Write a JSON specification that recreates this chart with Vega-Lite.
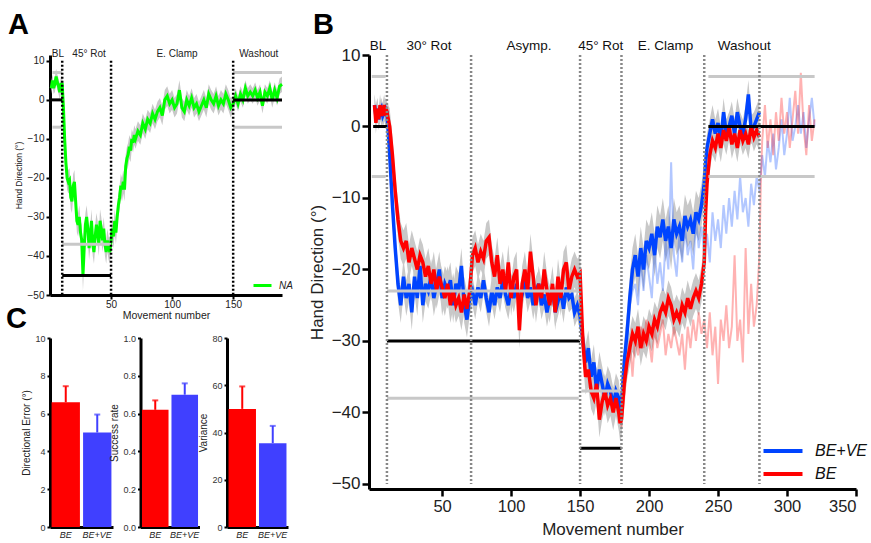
{
"$schema":"https://vega.github.io/schema/vega-lite/v6.json",
"padding":{"left":6,"top":10,"right":2,"bottom":2},
"config":{"font":"Liberation Sans","view":{"stroke":null},
"axis":{"domainColor":"#000","tickColor":"#000","labelColor":"#222","titleColor":"#222","grid":false,"titleFontWeight":"normal","labelFont":"Liberation Sans","titleFont":"Liberation Sans","labelOverlap":false},
"title":{"font":"Liberation Sans","fontWeight":"bold","anchor":"start","frame":"group","color":"#000","fontSize":29},
"legend":{"labelFont":"Liberation Sans"}},
"datasets":{
"a":[{"x":1,"y":3,"e":1.5},{"x":2,"y":5,"e":1.5},{"x":3,"y":3,"e":1.5},{"x":4,"y":4,"e":2},{"x":5,"y":6,"e":2},{"x":6,"y":4.5,"e":2},{"x":7,"y":3.5,"e":2},{"x":8,"y":2,"e":2},{"x":9,"y":4,"e":2},{"x":10,"y":4,"e":2},{"x":11,"y":-2,"e":3},{"x":12,"y":-10,"e":3},{"x":13,"y":-16,"e":3},{"x":14,"y":-20,"e":3},{"x":15,"y":-21,"e":3},{"x":16,"y":-20.5,"e":3},{"x":17,"y":-25,"e":3},{"x":18,"y":-26,"e":3},{"x":19,"y":-22,"e":3},{"x":20,"y":-21,"e":3},{"x":21,"y":-26,"e":3},{"x":22,"y":-31,"e":3},{"x":23,"y":-32,"e":3},{"x":24,"y":-30,"e":3},{"x":25,"y":-34,"e":3},{"x":26,"y":-36,"e":4},{"x":27,"y":-45,"e":4},{"x":28,"y":-38,"e":4},{"x":29,"y":-32,"e":3},{"x":30,"y":-30,"e":3},{"x":31,"y":-33,"e":3},{"x":32,"y":-38,"e":3},{"x":33,"y":-35,"e":3},{"x":34,"y":-31,"e":3},{"x":35,"y":-37,"e":3},{"x":36,"y":-39,"e":3},{"x":37,"y":-35,"e":3},{"x":38,"y":-32,"e":3},{"x":39,"y":-34,"e":3},{"x":40,"y":-37,"e":3},{"x":41,"y":-31,"e":3},{"x":42,"y":-33,"e":3},{"x":43,"y":-36,"e":3},{"x":44,"y":-33,"e":3},{"x":45,"y":-37,"e":3},{"x":46,"y":-39,"e":3},{"x":47,"y":-36,"e":3},{"x":48,"y":-38,"e":3},{"x":49,"y":-39,"e":3},{"x":50,"y":-36,"e":3},{"x":51,"y":-33,"e":3},{"x":52,"y":-35,"e":3},{"x":53,"y":-31,"e":3},{"x":54,"y":-34,"e":3},{"x":55,"y":-30,"e":3},{"x":56,"y":-27,"e":3},{"x":57,"y":-25,"e":3},{"x":58,"y":-22,"e":3},{"x":59,"y":-23,"e":3},{"x":60,"y":-21,"e":3},{"x":61,"y":-23,"e":3},{"x":62,"y":-17,"e":3},{"x":63,"y":-15,"e":3},{"x":64,"y":-14,"e":3},{"x":65,"y":-12,"e":3},{"x":66,"y":-13,"e":3},{"x":67,"y":-10,"e":2.5},{"x":68,"y":-11,"e":2.5},{"x":69,"y":-9,"e":2.5},{"x":70,"y":-10,"e":2.5},{"x":72,"y":-8,"e":2.5},{"x":74,"y":-9,"e":2.5},{"x":76,"y":-6,"e":2.5},{"x":78,"y":-7.5,"e":2.5},{"x":80,"y":-5,"e":2.5},{"x":82,"y":-6,"e":2.5},{"x":84,"y":-3.5,"e":2.5},{"x":86,"y":-5,"e":2.5},{"x":88,"y":-3,"e":2.5},{"x":90,"y":-2,"e":2.5},{"x":92,"y":-4,"e":2.5},{"x":94,"y":0,"e":2.5},{"x":96,"y":1,"e":2.5},{"x":98,"y":-1,"e":2.5},{"x":100,"y":0,"e":2.5},{"x":102,"y":-2,"e":2.5},{"x":104,"y":-1,"e":2.5},{"x":106,"y":2.5,"e":2.5},{"x":108,"y":-2,"e":2.5},{"x":110,"y":-3,"e":2.5},{"x":112,"y":0,"e":2.5},{"x":114,"y":-1.5,"e":2.5},{"x":116,"y":0.5,"e":2.5},{"x":118,"y":-2,"e":2.5},{"x":120,"y":-1,"e":2.5},{"x":122,"y":-3,"e":2.5},{"x":124,"y":-1.5,"e":2.5},{"x":126,"y":0,"e":2.5},{"x":128,"y":-2,"e":2.5},{"x":130,"y":1.5,"e":2.5},{"x":132,"y":0,"e":2.5},{"x":134,"y":-1,"e":2.5},{"x":136,"y":1,"e":2.5},{"x":138,"y":-1.5,"e":2.5},{"x":140,"y":0,"e":2.5},{"x":142,"y":-1,"e":2.5},{"x":144,"y":1.5,"e":2.5},{"x":146,"y":0,"e":2.5},{"x":148,"y":-2,"e":2.5},{"x":150,"y":-1,"e":2},{"x":152,"y":1,"e":2},{"x":154,"y":-1,"e":2},{"x":156,"y":1.5,"e":2},{"x":158,"y":0,"e":2},{"x":160,"y":3,"e":2},{"x":162,"y":1,"e":2},{"x":164,"y":2,"e":2},{"x":166,"y":1,"e":2},{"x":168,"y":2.5,"e":2},{"x":170,"y":0.5,"e":2},{"x":172,"y":2,"e":2},{"x":174,"y":-1.5,"e":2},{"x":176,"y":2,"e":2},{"x":178,"y":1,"e":2},{"x":180,"y":3,"e":2},{"x":182,"y":0,"e":2},{"x":184,"y":2.5,"e":2},{"x":186,"y":0.5,"e":2},{"x":188,"y":3.5,"e":2},{"x":190,"y":4,"e":2}],
"a_t":[{"x":0,"x2":10,"y":0},{"x":10,"x2":50,"y":-45},{"x":150,"x2":190,"y":0}],
"a_b":[{"x":2,"x2":10,"y":7},{"x":2,"x2":10,"y":-7},{"x":10,"x2":50,"y":-37},{"x":150,"x2":190,"y":7},{"x":150,"x2":190,"y":-7}],
"a_v":[{"x":10},{"x":50},{"x":150}],
"a_s":[{"x":6.5,"t":"BL"},{"x":32,"t":"45° Rot"},{"x":104,"t":"E. Clamp"},{"x":171,"t":"Washout"}],
"bv":[{"x":1,"y":3,"e":1.5},{"x":2,"y":1.5,"e":1.5},{"x":3,"y":2.5,"e":1.5},{"x":4,"y":1,"e":1.5},{"x":5,"y":2,"e":1.5},{"x":6,"y":2.5,"e":1.5},{"x":7,"y":1.5,"e":1.5},{"x":8,"y":2,"e":1.5},{"x":9,"y":2.5,"e":1.5},{"x":10,"y":2,"e":1.5},{"x":12,"y":-4,"e":2.5},{"x":14,"y":-11,"e":2.5},{"x":16,"y":-17,"e":2.5},{"x":18,"y":-22,"e":2.5},{"x":20,"y":-25,"e":2.5},{"x":22,"y":-21,"e":2.5},{"x":24,"y":-24,"e":2.5},{"x":26,"y":-22,"e":2.5},{"x":28,"y":-26,"e":2.5},{"x":30,"y":-21,"e":2.5},{"x":32,"y":-24,"e":2.5},{"x":34,"y":-19.5,"e":2.5},{"x":36,"y":-25,"e":2.5},{"x":38,"y":-22,"e":2.5},{"x":40,"y":-23,"e":2.5},{"x":42,"y":-21,"e":2.5},{"x":44,"y":-24,"e":2.5},{"x":46,"y":-22,"e":2.5},{"x":48,"y":-20,"e":2.5},{"x":50,"y":-24,"e":2.5},{"x":52,"y":-22,"e":2.5},{"x":54,"y":-23,"e":2.5},{"x":56,"y":-21.5,"e":2.5},{"x":58,"y":-25,"e":2.5},{"x":60,"y":-22,"e":2.5},{"x":62,"y":-23,"e":2.5},{"x":64,"y":-19.5,"e":2.5},{"x":66,"y":-25,"e":2.5},{"x":68,"y":-27,"e":2.5},{"x":70,"y":-24,"e":2.5},{"x":72,"y":-23,"e":2},{"x":74,"y":-25,"e":2},{"x":76,"y":-22.5,"e":2},{"x":78,"y":-24,"e":2},{"x":80,"y":-21.5,"e":2},{"x":82,"y":-24,"e":2},{"x":84,"y":-26,"e":2},{"x":86,"y":-23,"e":2},{"x":88,"y":-25,"e":2},{"x":90,"y":-22.5,"e":2},{"x":92,"y":-24,"e":2},{"x":94,"y":-21.5,"e":2},{"x":96,"y":-23.5,"e":2},{"x":98,"y":-25,"e":2},{"x":100,"y":-22.5,"e":2},{"x":102,"y":-24,"e":2},{"x":104,"y":-22,"e":2},{"x":106,"y":-25,"e":2},{"x":108,"y":-23.5,"e":2},{"x":110,"y":-21.5,"e":2},{"x":112,"y":-24,"e":2},{"x":114,"y":-22.5,"e":2},{"x":116,"y":-25,"e":2},{"x":118,"y":-23,"e":2},{"x":120,"y":-22,"e":2},{"x":122,"y":-25,"e":2},{"x":124,"y":-23.5,"e":2},{"x":126,"y":-26,"e":2},{"x":128,"y":-24,"e":2},{"x":130,"y":-22.5,"e":2},{"x":132,"y":-26,"e":2},{"x":134,"y":-24.5,"e":2},{"x":136,"y":-23,"e":2},{"x":138,"y":-25.5,"e":2},{"x":140,"y":-22.5,"e":2},{"x":142,"y":-24,"e":2},{"x":144,"y":-23.5,"e":2},{"x":146,"y":-26,"e":2},{"x":148,"y":-25,"e":2},{"x":150,"y":-26.5,"e":2},{"x":152,"y":-30,"e":2.5},{"x":154,"y":-33,"e":2.5},{"x":156,"y":-31,"e":2.5},{"x":158,"y":-35,"e":2.5},{"x":160,"y":-33,"e":2.5},{"x":162,"y":-37,"e":2.5},{"x":164,"y":-34,"e":2.5},{"x":166,"y":-36,"e":2.5},{"x":168,"y":-38,"e":2.5},{"x":170,"y":-36,"e":2.5},{"x":172,"y":-37,"e":2.5},{"x":174,"y":-39,"e":2.5},{"x":176,"y":-37,"e":2.5},{"x":178,"y":-38,"e":2.5},{"x":179,"y":-40,"e":2.5},{"x":180,"y":-39,"e":3},{"x":182,"y":-33,"e":3},{"x":184,"y":-29,"e":3},{"x":186,"y":-24,"e":3},{"x":188,"y":-20,"e":3},{"x":190,"y":-18,"e":3},{"x":192,"y":-21,"e":3},{"x":194,"y":-17,"e":3},{"x":196,"y":-20,"e":3},{"x":198,"y":-16,"e":3},{"x":200,"y":-17,"e":3},{"x":202,"y":-15,"e":3},{"x":204,"y":-18,"e":3},{"x":206,"y":-14,"e":3},{"x":208,"y":-15.5,"e":3},{"x":210,"y":-13,"e":3},{"x":212,"y":-16,"e":3},{"x":214,"y":-14,"e":3},{"x":216,"y":-17,"e":3},{"x":218,"y":-13,"e":3},{"x":220,"y":-15,"e":3},{"x":222,"y":-14,"e":3},{"x":224,"y":-16,"e":3},{"x":226,"y":-12.5,"e":3},{"x":228,"y":-14,"e":3},{"x":230,"y":-13,"e":3},{"x":232,"y":-15,"e":3},{"x":234,"y":-12,"e":3},{"x":236,"y":-13,"e":3},{"x":238,"y":-11,"e":3},{"x":240,"y":-8,"e":3},{"x":241,"y":-5,"e":2},{"x":242,"y":-3,"e":2},{"x":244,"y":-1,"e":2},{"x":246,"y":1,"e":2},{"x":248,"y":-1,"e":2},{"x":250,"y":0.5,"e":2},{"x":252,"y":-2,"e":2},{"x":254,"y":2,"e":2},{"x":256,"y":-1,"e":2},{"x":258,"y":0,"e":2},{"x":260,"y":1.5,"e":2},{"x":262,"y":-1,"e":2},{"x":264,"y":2,"e":2},{"x":266,"y":0,"e":2},{"x":268,"y":-1,"e":2},{"x":270,"y":1,"e":2},{"x":272,"y":4.5,"e":2},{"x":274,"y":-0.5,"e":2},{"x":276,"y":0,"e":2},{"x":278,"y":1,"e":2},{"x":280,"y":2,"e":2}],
"be":[{"x":1,"y":3,"e":1.5},{"x":2,"y":0.5,"e":1.5},{"x":3,"y":2.5,"e":1.5},{"x":4,"y":1,"e":1.5},{"x":5,"y":3,"e":1.5},{"x":6,"y":1.5,"e":1.5},{"x":7,"y":2,"e":1.5},{"x":8,"y":3,"e":1.5},{"x":9,"y":1.5,"e":1.5},{"x":10,"y":2,"e":1.5},{"x":12,"y":0,"e":2.5},{"x":14,"y":-4,"e":2.5},{"x":16,"y":-9,"e":2.5},{"x":18,"y":-13,"e":2.5},{"x":20,"y":-16,"e":2.5},{"x":22,"y":-17,"e":2.5},{"x":24,"y":-16,"e":2.5},{"x":26,"y":-19,"e":2.5},{"x":28,"y":-17,"e":2.5},{"x":30,"y":-18.5,"e":2.5},{"x":32,"y":-20,"e":2.5},{"x":34,"y":-18,"e":2.5},{"x":36,"y":-19,"e":2.5},{"x":38,"y":-21,"e":2.5},{"x":40,"y":-19.5,"e":2.5},{"x":42,"y":-22,"e":2.5},{"x":44,"y":-20,"e":2.5},{"x":46,"y":-23,"e":2.5},{"x":48,"y":-21,"e":2.5},{"x":50,"y":-22.5,"e":2.5},{"x":52,"y":-24,"e":2.5},{"x":54,"y":-22,"e":2.5},{"x":56,"y":-25,"e":2.5},{"x":58,"y":-23,"e":2.5},{"x":60,"y":-25,"e":2.5},{"x":62,"y":-24,"e":2.5},{"x":64,"y":-26,"e":2.5},{"x":66,"y":-23.5,"e":2.5},{"x":68,"y":-25.5,"e":2.5},{"x":70,"y":-23,"e":2.5},{"x":72,"y":-18,"e":2.5},{"x":74,"y":-17,"e":2.5},{"x":76,"y":-19,"e":2.5},{"x":78,"y":-17.5,"e":2.5},{"x":80,"y":-18.5,"e":2.5},{"x":82,"y":-16,"e":2.5},{"x":84,"y":-15.5,"e":2.5},{"x":86,"y":-19,"e":2.5},{"x":88,"y":-21,"e":2.5},{"x":90,"y":-18,"e":2.5},{"x":92,"y":-22,"e":2.5},{"x":94,"y":-20,"e":2.5},{"x":96,"y":-23,"e":2.5},{"x":98,"y":-19,"e":2.5},{"x":100,"y":-24,"e":2.5},{"x":102,"y":-21,"e":2.5},{"x":104,"y":-20,"e":2.5},{"x":106,"y":-28.5,"e":2.5},{"x":108,"y":-22,"e":2.5},{"x":110,"y":-20,"e":2.5},{"x":112,"y":-23,"e":2.5},{"x":114,"y":-17.5,"e":2.5},{"x":116,"y":-21,"e":2.5},{"x":118,"y":-25,"e":2.5},{"x":120,"y":-22,"e":2.5},{"x":122,"y":-24,"e":2.5},{"x":124,"y":-20,"e":2.5},{"x":126,"y":-23,"e":2.5},{"x":128,"y":-25,"e":2.5},{"x":130,"y":-22,"e":2.5},{"x":132,"y":-26,"e":2.5},{"x":134,"y":-21,"e":2.5},{"x":136,"y":-24,"e":2.5},{"x":138,"y":-20,"e":2.5},{"x":140,"y":-19,"e":2.5},{"x":142,"y":-23,"e":2.5},{"x":144,"y":-21,"e":2.5},{"x":146,"y":-20,"e":2.5},{"x":148,"y":-21,"e":2.5},{"x":150,"y":-20.5,"e":2.5},{"x":152,"y":-30,"e":2.5},{"x":154,"y":-35,"e":2.5},{"x":156,"y":-34,"e":2.5},{"x":158,"y":-37,"e":2.5},{"x":160,"y":-38,"e":2.5},{"x":162,"y":-36,"e":2.5},{"x":164,"y":-41,"e":2.5},{"x":166,"y":-38.5,"e":2.5},{"x":168,"y":-37,"e":2.5},{"x":170,"y":-39,"e":2.5},{"x":172,"y":-38,"e":2.5},{"x":174,"y":-40,"e":2.5},{"x":176,"y":-38,"e":2.5},{"x":178,"y":-40,"e":2.5},{"x":179,"y":-41.5,"e":2.5},{"x":180,"y":-41,"e":2.5},{"x":182,"y":-36,"e":2.5},{"x":184,"y":-33,"e":2.5},{"x":186,"y":-31,"e":2.5},{"x":188,"y":-29,"e":2.5},{"x":190,"y":-30,"e":2.5},{"x":192,"y":-28,"e":2.5},{"x":194,"y":-31,"e":2.5},{"x":196,"y":-29,"e":2.5},{"x":198,"y":-30,"e":2.5},{"x":200,"y":-28,"e":2.5},{"x":202,"y":-29,"e":2.5},{"x":204,"y":-27,"e":2.5},{"x":206,"y":-28,"e":2.5},{"x":208,"y":-26,"e":2.5},{"x":210,"y":-25,"e":2.5},{"x":212,"y":-26,"e":2.5},{"x":214,"y":-24,"e":2.5},{"x":216,"y":-25,"e":2.5},{"x":218,"y":-27,"e":2.5},{"x":220,"y":-26,"e":2.5},{"x":222,"y":-27,"e":2.5},{"x":224,"y":-25,"e":2.5},{"x":226,"y":-26,"e":2.5},{"x":228,"y":-24,"e":2.5},{"x":230,"y":-25.5,"e":2.5},{"x":232,"y":-24,"e":2.5},{"x":234,"y":-23,"e":2.5},{"x":236,"y":-24,"e":2.5},{"x":238,"y":-22,"e":2.5},{"x":240,"y":-19,"e":2.5},{"x":241,"y":-12,"e":2},{"x":242,"y":-8,"e":2},{"x":244,"y":-4,"e":2},{"x":246,"y":-2,"e":2},{"x":248,"y":-3,"e":2},{"x":250,"y":-1,"e":2},{"x":252,"y":-3,"e":2},{"x":254,"y":-0.5,"e":2},{"x":256,"y":-2,"e":2},{"x":258,"y":0,"e":2},{"x":260,"y":-2.5,"e":2},{"x":262,"y":-1,"e":2},{"x":264,"y":-3,"e":2},{"x":266,"y":-0.5,"e":2},{"x":268,"y":-2,"e":2},{"x":270,"y":-1,"e":2},{"x":272,"y":-2.5,"e":2},{"x":274,"y":0,"e":2},{"x":276,"y":-1.5,"e":2},{"x":278,"y":-0.5,"e":2},{"x":280,"y":-1.5,"e":2}],
"bvf":[{"x":180,"y":-38},{"x":182,"y":-33},{"x":184,"y":-28},{"x":186,"y":-25},{"x":188,"y":-23},{"x":190,"y":-22},{"x":192,"y":-25},{"x":194,"y":-19},{"x":196,"y":-23},{"x":198,"y":-18},{"x":200,"y":-21},{"x":202,"y":-24},{"x":204,"y":-17},{"x":206,"y":-22},{"x":208,"y":-19},{"x":210,"y":-23},{"x":212,"y":-16},{"x":214,"y":-20},{"x":216,"y":-5},{"x":218,"y":-18},{"x":220,"y":-21},{"x":222,"y":-15},{"x":224,"y":-19},{"x":226,"y":-14},{"x":228,"y":-18},{"x":230,"y":-16},{"x":232,"y":-20},{"x":234,"y":-13},{"x":236,"y":-17},{"x":238,"y":-14},{"x":240,"y":-18},{"x":242,"y":-15},{"x":244,"y":-19},{"x":246,"y":-12},{"x":248,"y":-16},{"x":250,"y":-13},{"x":252,"y":-17},{"x":254,"y":-11},{"x":256,"y":-15},{"x":258,"y":-10},{"x":260,"y":-14},{"x":262,"y":-9},{"x":264,"y":-13},{"x":266,"y":-7},{"x":268,"y":-12},{"x":270,"y":-10},{"x":272,"y":-14},{"x":274,"y":-8},{"x":276,"y":-11},{"x":278,"y":-7},{"x":280,"y":-9},{"x":282,"y":-4},{"x":284,"y":-7},{"x":286,"y":-2},{"x":288,"y":-5},{"x":290,"y":-1},{"x":292,"y":-6},{"x":294,"y":-3},{"x":296,"y":1},{"x":298,"y":-4},{"x":300,"y":-1},{"x":302,"y":4},{"x":304,"y":-2},{"x":306,"y":0},{"x":308,"y":3},{"x":310,"y":-1},{"x":312,"y":2},{"x":314,"y":-3},{"x":316,"y":1},{"x":318,"y":4},{"x":320,"y":0}],
"bef":[{"x":180,"y":-42},{"x":182,"y":-38},{"x":184,"y":-33},{"x":186,"y":-30},{"x":188,"y":-35},{"x":190,"y":-29},{"x":192,"y":-32},{"x":194,"y":-28},{"x":196,"y":-31},{"x":198,"y":-27},{"x":200,"y":-30},{"x":202,"y":-33},{"x":204,"y":-28},{"x":206,"y":-31},{"x":208,"y":-29},{"x":210,"y":-27},{"x":212,"y":-32},{"x":214,"y":-29},{"x":216,"y":-31},{"x":218,"y":-28},{"x":220,"y":-30},{"x":222,"y":-32},{"x":224,"y":-29},{"x":226,"y":-34},{"x":228,"y":-28},{"x":230,"y":-31},{"x":232,"y":-27},{"x":234,"y":-30},{"x":236,"y":-26},{"x":238,"y":-29},{"x":240,"y":-27},{"x":242,"y":-31},{"x":244,"y":-26},{"x":246,"y":-32},{"x":248,"y":-28},{"x":250,"y":-36},{"x":252,"y":-27},{"x":254,"y":-30},{"x":256,"y":-25},{"x":258,"y":-31},{"x":260,"y":-28},{"x":262,"y":-18},{"x":264,"y":-30},{"x":266,"y":-27},{"x":268,"y":-33},{"x":270,"y":-17},{"x":272,"y":-29},{"x":274,"y":-22},{"x":276,"y":-28},{"x":278,"y":-25},{"x":280,"y":-18},{"x":281,"y":-8},{"x":282,"y":-2},{"x":284,"y":3},{"x":286,"y":-3},{"x":288,"y":1},{"x":290,"y":-4},{"x":292,"y":2},{"x":294,"y":-2},{"x":296,"y":4},{"x":298,"y":-1},{"x":300,"y":2},{"x":302,"y":-3},{"x":304,"y":1},{"x":306,"y":5},{"x":308,"y":-1},{"x":310,"y":7.5},{"x":312,"y":0},{"x":314,"y":-4},{"x":316,"y":3},{"x":318,"y":-2},{"x":320,"y":1}],
"b_t":[{"x":0,"x2":10,"y":0},{"x":10,"x2":150,"y":-30},{"x":150,"x2":180,"y":-45},{"x":243,"x2":320,"y":0}],
"b_b":[{"x":-1,"x2":9,"y":7},{"x":-1,"x2":9,"y":-7},{"x":10,"x2":149,"y":-23},{"x":10,"x2":149,"y":-38},{"x":151,"x2":180,"y":-37},{"x":243,"x2":320,"y":7},{"x":243,"x2":320,"y":-7}],
"b_v":[{"x":10},{"x":71},{"x":150},{"x":180},{"x":240},{"x":280}],
"b_s":[{"x":3.5,"t":"BL"},{"x":40.5,"t":"30° Rot"},{"x":113,"t":"Asymp."},{"x":165,"t":"45° Rot"},{"x":212,"t":"E. Clamp"},{"x":269,"t":"Washout"}],
"c1":[{"g":"BE","v":6.6,"u":7.45},{"g":"BE+VE","v":5.0,"u":5.95}],
"c2":[{"g":"BE","v":0.62,"u":0.67},{"g":"BE+VE","v":0.70,"u":0.76}],
"c3":[{"g":"BE","v":50,"u":59.5},{"g":"BE+VE","v":35.5,"u":42.8}]
},
"spacing":15,
"resolve":{"scale":{"color":"independent"},"legend":{"color":"independent"}},
"hconcat":[
{"bounds":"flush","spacing":43,
"resolve":{"scale":{"color":"independent"},"legend":{"color":"independent"}},
"vconcat":[
{"width":232,"height":240,
"title":{"text":"A","dx":-42,"offset":9},
"encoding":{"x":{"field":"x","type":"quantitative","scale":{"domain":[0,190],"nice":false,"zero":false},"axis":{"values":[50,100,150],"title":"Movement number","labelFontSize":10,"titleFontSize":10.5,"domainWidth":3,"tickWidth":2,"tickSize":4,"labelPadding":0,"titlePadding":1}}},
"layer":[
{"data":{"name":"a"},"mark":{"type":"errorband","color":"#c8c8c8","opacity":1},"encoding":{"y":{"field":"y","type":"quantitative","scale":{"domain":[-50,11.5],"nice":false,"zero":false},"axis":{"values":[-50,-40,-30,-20,-10,0,10],"title":"Hand Direction (°)","labelFontSize":10,"titleFontSize":8.5,"domainWidth":3,"tickWidth":2,"tickSize":4,"titlePadding":4,"labelOverlap":false}},"yError":{"field":"e"}}},
{"data":{"name":"a"},"mark":{"type":"line","strokeWidth":3},"encoding":{"y":{"field":"y","type":"quantitative","scale":{"domain":[-50,11.5],"nice":false,"zero":false},"axis":{"values":[-50,-40,-30,-20,-10,0,10],"title":"Hand Direction (°)","labelFontSize":10,"titleFontSize":8.5,"domainWidth":3,"tickWidth":2,"tickSize":4,"titlePadding":4,"labelOverlap":false}},"color":{"datum":"NA","scale":{"domain":["NA"],"range":["#00ff00"]},"legend":{"orient":"none","legendX":202,"legendY":220,"title":null,"symbolType":"stroke","symbolStrokeWidth":3,"symbolSize":324,"labelFontSize":10,"labelFontStyle":"italic","labelColor":"#222","labelOffset":6,"padding":0}}}},
{"data":{"name":"a_b"},"mark":{"type":"rule","strokeWidth":3,"color":"#c8c8c8"},"encoding":{"x2":{"field":"x2"},"y":{"field":"y","type":"quantitative","scale":{"domain":[-50,11.5],"nice":false,"zero":false},"axis":{"values":[-50,-40,-30,-20,-10,0,10],"title":"Hand Direction (°)","labelFontSize":10,"titleFontSize":8.5,"domainWidth":3,"tickWidth":2,"tickSize":4,"titlePadding":4,"labelOverlap":false}}}},
{"data":{"name":"a_t"},"mark":{"type":"rule","strokeWidth":3,"color":"#000"},"encoding":{"x2":{"field":"x2"},"y":{"field":"y","type":"quantitative","scale":{"domain":[-50,11.5],"nice":false,"zero":false},"axis":{"values":[-50,-40,-30,-20,-10,0,10],"title":"Hand Direction (°)","labelFontSize":10,"titleFontSize":8.5,"domainWidth":3,"tickWidth":2,"tickSize":4,"titlePadding":4,"labelOverlap":false}}}},
{"data":{"name":"a_v"},"mark":{"type":"rule","strokeWidth":2.5,"strokeDash":[2,2],"color":"#000"},"encoding":{"y":{"datum":10,"type":"quantitative","scale":{"domain":[-50,11.5],"nice":false,"zero":false},"axis":{"values":[-50,-40,-30,-20,-10,0,10],"title":"Hand Direction (°)","labelFontSize":10,"titleFontSize":8.5,"domainWidth":3,"tickWidth":2,"tickSize":4,"titlePadding":4,"labelOverlap":false}},"y2":{"datum":-50}}},
{"data":{"name":"a_s"},"mark":{"type":"text","fontSize":10,"dy":-4,"baseline":"alphabetic","color":"#222"},"encoding":{"y":{"datum":10,"type":"quantitative","scale":{"domain":[-50,11.5],"nice":false,"zero":false},"axis":{"values":[-50,-40,-30,-20,-10,0,10],"title":"Hand Direction (°)","labelFontSize":10,"titleFontSize":8.5,"domainWidth":3,"tickWidth":2,"tickSize":4,"titlePadding":4,"labelOverlap":false}},"text":{"field":"t"}}}
]},
{"bounds":"flush","spacing":27.5,
"resolve":{"scale":{"color":"independent","y":"independent"},"legend":{"color":"independent"}},
"hconcat":[
{"width":63,"height":189,"data":{"name":"c1"},
"title":{"text":"C","dx":-44,"offset":0},
"encoding":{"x":{"field":"g","type":"nominal","sort":["BE","BE+VE"],"scale":{"paddingInner":0.1,"paddingOuter":0.05},"axis":{"title":null,"labelAngle":0,"labelFontSize":9,"labelFontStyle":"italic","ticks":false,"domainWidth":3,"labelPadding":3,"labelColor":"#222"}},
"color":{"field":"g","type":"nominal","scale":{"domain":["BE","BE+VE"],"range":["#ff0000","#4040ff"]},"legend":null}},
"layer":[
{"mark":{"type":"bar"},"encoding":{"y":{"field":"v","type":"quantitative","scale":{"domain":[0,10],"nice":false},"axis":{"values":[0,2,4,6,8,10],"title":"Directional Error (°)","labelFontSize":9,"titleFontSize":10,"domainWidth":3,"tickWidth":2,"tickSize":3,"titlePadding":3,"labelColor":"#333","labelOverlap":false}}}},
{"mark":{"type":"rule","strokeWidth":2},"encoding":{"y":{"field":"v","type":"quantitative","scale":{"domain":[0,10],"nice":false},"axis":{"values":[0,2,4,6,8,10],"title":"Directional Error (°)","labelFontSize":9,"titleFontSize":10,"domainWidth":3,"tickWidth":2,"tickSize":3,"titlePadding":3,"labelColor":"#333","labelOverlap":false}},"y2":{"field":"u"}}},
{"mark":{"type":"tick","thickness":2,"size":6},"encoding":{"y":{"field":"u","type":"quantitative","scale":{"domain":[0,10],"nice":false},"axis":{"values":[0,2,4,6,8,10],"title":"Directional Error (°)","labelFontSize":9,"titleFontSize":10,"domainWidth":3,"tickWidth":2,"tickSize":3,"titlePadding":3,"labelColor":"#333","labelOverlap":false}}}}
]},
{"width":59,"height":189,"data":{"name":"c2"},
"encoding":{"x":{"field":"g","type":"nominal","sort":["BE","BE+VE"],"scale":{"paddingInner":0.1,"paddingOuter":0.05},"axis":{"title":null,"labelAngle":0,"labelFontSize":9,"labelFontStyle":"italic","ticks":false,"domainWidth":3,"labelPadding":3,"labelColor":"#222"}},
"color":{"field":"g","type":"nominal","scale":{"domain":["BE","BE+VE"],"range":["#ff0000","#4040ff"]},"legend":null}},
"layer":[
{"mark":{"type":"bar"},"encoding":{"y":{"field":"v","type":"quantitative","scale":{"domain":[0,1],"nice":false},"axis":{"values":[0,0.2,0.4,0.6,0.8,1.0],"format":".1f","title":"Success rate","labelFontSize":9,"titleFontSize":10,"domainWidth":3,"tickWidth":2,"tickSize":3,"titlePadding":3,"labelColor":"#333","labelOverlap":false}}}},
{"mark":{"type":"rule","strokeWidth":2},"encoding":{"y":{"field":"v","type":"quantitative","scale":{"domain":[0,1],"nice":false},"axis":{"values":[0,0.2,0.4,0.6,0.8,1.0],"format":".1f","title":"Success rate","labelFontSize":9,"titleFontSize":10,"domainWidth":3,"tickWidth":2,"tickSize":3,"titlePadding":3,"labelColor":"#333","labelOverlap":false}},"y2":{"field":"u"}}},
{"mark":{"type":"tick","thickness":2,"size":6},"encoding":{"y":{"field":"u","type":"quantitative","scale":{"domain":[0,1],"nice":false},"axis":{"values":[0,0.2,0.4,0.6,0.8,1.0],"format":".1f","title":"Success rate","labelFontSize":9,"titleFontSize":10,"domainWidth":3,"tickWidth":2,"tickSize":3,"titlePadding":3,"labelColor":"#333","labelOverlap":false}}}}
]},
{"width":61,"height":189,"data":{"name":"c3"},
"encoding":{"x":{"field":"g","type":"nominal","sort":["BE","BE+VE"],"scale":{"paddingInner":0.1,"paddingOuter":0.05},"axis":{"title":null,"labelAngle":0,"labelFontSize":9,"labelFontStyle":"italic","ticks":false,"domainWidth":3,"labelPadding":3,"labelColor":"#222"}},
"color":{"field":"g","type":"nominal","scale":{"domain":["BE","BE+VE"],"range":["#ff0000","#4040ff"]},"legend":null}},
"layer":[
{"mark":{"type":"bar"},"encoding":{"y":{"field":"v","type":"quantitative","scale":{"domain":[0,80],"nice":false},"axis":{"values":[0,20,40,60,80],"title":"Variance","labelFontSize":9,"titleFontSize":10,"domainWidth":3,"tickWidth":2,"tickSize":3,"titlePadding":3,"labelColor":"#333","labelOverlap":false}}}},
{"mark":{"type":"rule","strokeWidth":2},"encoding":{"y":{"field":"v","type":"quantitative","scale":{"domain":[0,80],"nice":false},"axis":{"values":[0,20,40,60,80],"title":"Variance","labelFontSize":9,"titleFontSize":10,"domainWidth":3,"tickWidth":2,"tickSize":3,"titlePadding":3,"labelColor":"#333","labelOverlap":false}},"y2":{"field":"u"}}},
{"mark":{"type":"tick","thickness":2,"size":6},"encoding":{"y":{"field":"u","type":"quantitative","scale":{"domain":[0,80],"nice":false},"axis":{"values":[0,20,40,60,80],"title":"Variance","labelFontSize":9,"titleFontSize":10,"domainWidth":3,"tickWidth":2,"tickSize":3,"titlePadding":3,"labelColor":"#333","labelOverlap":false}}}}
]}
]}
]},
{"width":487,"height":434,
"title":{"text":"B","dx":-56,"offset":-1},
"encoding":{"x":{"field":"x","type":"quantitative","scale":{"domain":[-3,350],"nice":false,"zero":false},"axis":{"values":[50,100,150,200,250,300,350],"title":"Movement number","labelFontSize":16.5,"titleFontSize":17,"domainWidth":3,"tickWidth":2.5,"tickSize":7,"labelPadding":2,"titlePadding":7}}},
"layer":[
{"data":{"name":"bv"},"mark":{"type":"errorband","color":"#c8c8c8","opacity":1},"encoding":{"y":{"field":"y","type":"quantitative","scale":{"domain":[-50.7,10],"nice":false,"zero":false},"axis":{"values":[-50,-40,-30,-20,-10,0,10],"title":"Hand Direction (°)","labelFontSize":17,"titleFontSize":17,"domainWidth":3,"tickWidth":2.5,"tickSize":7,"titlePadding":5,"labelOverlap":false}},"yError":{"field":"e"}}},
{"data":{"name":"be"},"mark":{"type":"errorband","color":"#c8c8c8","opacity":1},"encoding":{"y":{"field":"y","type":"quantitative","scale":{"domain":[-50.7,10],"nice":false,"zero":false},"axis":{"values":[-50,-40,-30,-20,-10,0,10],"title":"Hand Direction (°)","labelFontSize":17,"titleFontSize":17,"domainWidth":3,"tickWidth":2.5,"tickSize":7,"titlePadding":5,"labelOverlap":false}},"yError":{"field":"e"}}},
{"data":{"name":"bvf"},"mark":{"type":"line","strokeWidth":2,"color":"#0044ff","opacity":0.3},"encoding":{"y":{"field":"y","type":"quantitative","scale":{"domain":[-50.7,10],"nice":false,"zero":false},"axis":{"values":[-50,-40,-30,-20,-10,0,10],"title":"Hand Direction (°)","labelFontSize":17,"titleFontSize":17,"domainWidth":3,"tickWidth":2.5,"tickSize":7,"titlePadding":5,"labelOverlap":false}}}},
{"data":{"name":"bef"},"mark":{"type":"line","strokeWidth":2,"color":"#ff0000","opacity":0.3},"encoding":{"y":{"field":"y","type":"quantitative","scale":{"domain":[-50.7,10],"nice":false,"zero":false},"axis":{"values":[-50,-40,-30,-20,-10,0,10],"title":"Hand Direction (°)","labelFontSize":17,"titleFontSize":17,"domainWidth":3,"tickWidth":2.5,"tickSize":7,"titlePadding":5,"labelOverlap":false}}}},
{"data":{"name":"bv"},"mark":{"type":"line","strokeWidth":3.5},"encoding":{"y":{"field":"y","type":"quantitative","scale":{"domain":[-50.7,10],"nice":false,"zero":false},"axis":{"values":[-50,-40,-30,-20,-10,0,10],"title":"Hand Direction (°)","labelFontSize":17,"titleFontSize":17,"domainWidth":3,"tickWidth":2.5,"tickSize":7,"titlePadding":5,"labelOverlap":false}},"color":{"datum":"BE+VE","scale":{"domain":["BE+VE","BE"],"range":["#0044ff","#ff0000"]},"legend":{"orient":"none","legendX":402,"legendY":384,"title":null,"symbolType":"M-2,0H2","symbolStrokeWidth":4,"symbolSize":380,"labelFontSize":16,"labelFontStyle":"italic","labelColor":"#111","rowPadding":3,"labelOffset":20,"padding":0}}}},
{"data":{"name":"be"},"mark":{"type":"line","strokeWidth":3.5},"encoding":{"y":{"field":"y","type":"quantitative","scale":{"domain":[-50.7,10],"nice":false,"zero":false},"axis":{"values":[-50,-40,-30,-20,-10,0,10],"title":"Hand Direction (°)","labelFontSize":17,"titleFontSize":17,"domainWidth":3,"tickWidth":2.5,"tickSize":7,"titlePadding":5,"labelOverlap":false}},"color":{"datum":"BE"}}},
{"data":{"name":"b_b"},"mark":{"type":"rule","strokeWidth":3,"color":"#c8c8c8"},"encoding":{"x2":{"field":"x2"},"y":{"field":"y","type":"quantitative","scale":{"domain":[-50.7,10],"nice":false,"zero":false},"axis":{"values":[-50,-40,-30,-20,-10,0,10],"title":"Hand Direction (°)","labelFontSize":17,"titleFontSize":17,"domainWidth":3,"tickWidth":2.5,"tickSize":7,"titlePadding":5,"labelOverlap":false}}}},
{"data":{"name":"b_t"},"mark":{"type":"rule","strokeWidth":3,"color":"#000"},"encoding":{"x2":{"field":"x2"},"y":{"field":"y","type":"quantitative","scale":{"domain":[-50.7,10],"nice":false,"zero":false},"axis":{"values":[-50,-40,-30,-20,-10,0,10],"title":"Hand Direction (°)","labelFontSize":17,"titleFontSize":17,"domainWidth":3,"tickWidth":2.5,"tickSize":7,"titlePadding":5,"labelOverlap":false}}}},
{"data":{"name":"b_v"},"mark":{"type":"rule","strokeWidth":2.5,"strokeDash":[2,2],"color":"#888"},"encoding":{"y":{"datum":10,"type":"quantitative","scale":{"domain":[-50.7,10],"nice":false,"zero":false},"axis":{"values":[-50,-40,-30,-20,-10,0,10],"title":"Hand Direction (°)","labelFontSize":17,"titleFontSize":17,"domainWidth":3,"tickWidth":2.5,"tickSize":7,"titlePadding":5,"labelOverlap":false}},"y2":{"datum":-50}}},
{"data":{"name":"b_s"},"mark":{"type":"text","fontSize":13.5,"dy":-5,"baseline":"alphabetic","color":"#111"},"encoding":{"y":{"datum":10,"type":"quantitative","scale":{"domain":[-50.7,10],"nice":false,"zero":false},"axis":{"values":[-50,-40,-30,-20,-10,0,10],"title":"Hand Direction (°)","labelFontSize":17,"titleFontSize":17,"domainWidth":3,"tickWidth":2.5,"tickSize":7,"titlePadding":5,"labelOverlap":false}},"text":{"field":"t"}}}
]}
]
}
